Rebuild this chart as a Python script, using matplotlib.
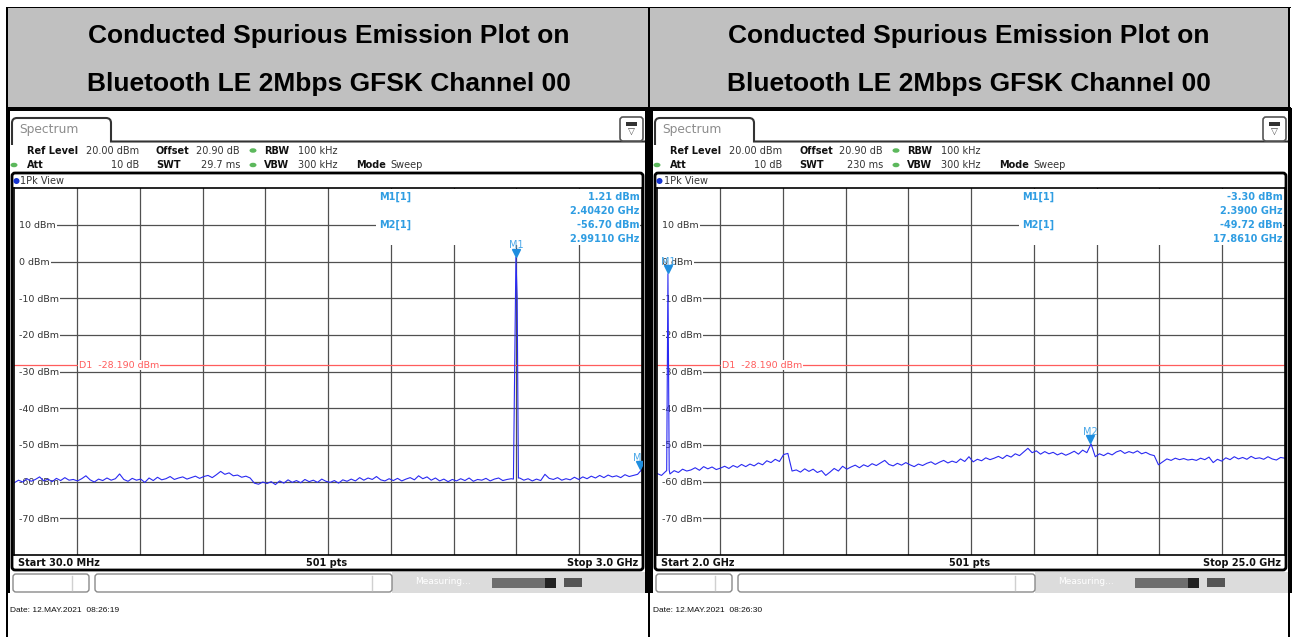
import numpy as np
import matplotlib
matplotlib.use("Agg")
import matplotlib.pyplot as plt
from matplotlib.patches import Rectangle, FancyBboxPatch, PathPatch, Ellipse
from matplotlib.path import Path
from matplotlib.transforms import offset_copy

W, H = 1292, 637

title_lines = ["Conducted Spurious Emission Plot on",
               "Bluetooth LE 2Mbps GFSK Channel 00"]
level_ticks = [10, 0, -10, -20, -30, -40, -50, -60, -70]
level_labels = ["10 dBm", "0 dBm", "-10 dBm", "-20 dBm", "-30 dBm",
                "-40 dBm", "-50 dBm", "-60 dBm", "-70 dBm"]
ref_level, bottom_level = 20, -80
d1_level = -28.19
n_points = 501

# left screen: 30 MHz .. 3 GHz
left_start, left_stop = 0.03, 3.0
left_start_txt, left_stop_txt = "Start 30.0 MHz", "Stop 3.0 GHz"
left_swt = "29.7 ms"
left_date = "12.MAY.2021  08:26:19"
left_noise = [
    -60.3, -59.6, -60.1, -59.2, -59.9, -59.4, -58.7, -59.8, -59.3, -60.0, -59.1, -59.7, -58.9, -59.6, -59.4,
    -59.8, -59.2, -58.4, -59.5, -60.1, -59.3, -59.7, -59.0, -59.6, -59.2, -57.9, -59.4, -59.9, -59.1, -59.6,
    -59.3, -60.2, -59.0, -59.7, -58.8, -59.5, -59.2, -58.6, -59.4, -59.0, -58.7, -59.3, -58.9, -58.5, -59.1,
    -58.6, -58.3, -58.9, -58.1, -57.2, -58.0, -57.6, -58.4, -58.2, -58.8, -58.5, -59.0, -60.4, -60.7, -60.1,
    -60.5, -60.0, -60.8, -59.8, -60.4, -59.5, -60.2, -59.7, -60.3, -59.4, -60.0, -59.6, -60.2, -59.3, -59.9,
    -60.2, -59.7, -60.4, -59.5, -59.9, -59.3, -59.8, -58.9, -59.6, -59.0, -59.4, -58.6, -59.5, -59.8, -59.2,
    -59.7, -59.1, -59.8, -59.3, -58.9, -59.5, -58.4, -59.2, -58.7, -59.6, -59.0, -59.8, -59.3, -60.0, -59.4,
    -59.8, -59.2, -59.7, -59.0, -59.9, -59.4, -59.6, -59.1, -59.8, -59.3, -59.0, -59.7, -59.4, -59.2,
    -59.5, -59.0, -59.6, -59.2, -59.8, -59.3, -59.7, -58.0, -59.1, -59.4, -58.9, -59.6, -59.2, -59.5, -58.8,
    -59.4, -58.7, -59.2, -58.5, -59.0, -58.3, -58.9, -58.2, -58.7, -58.4, -58.9, -58.1, -58.6, -58.3, -58.0, -56.7]
left_carrier_freq = [2.3924, 2.3983, 2.4042, 2.4101, 2.4160]
left_carrier_level = [-59.3, -28.2, 1.21, -9.8, -59.0]
left_markers = [("M1", 2.4042, 1.21), ("M2", 2.9911, -56.70)]
left_freq_digits = 5

# right screen: 2 GHz .. 25 GHz
right_start, right_stop = 2.0, 25.0
right_start_txt, right_stop_txt = "Start 2.0 GHz", "Stop 25.0 GHz"
right_swt = "230 ms"
right_date = "12.MAY.2021  08:26:30"
right_noise = [
    -57.8, -58.3, -57.2, -57.9, -57.0, -57.5, -56.6, -57.1,
    -56.8, -56.2, -56.9, -55.9, -56.5, -56.0, -56.7, -56.3,
    -55.8, -56.4, -55.6, -56.1, -55.3, -55.9, -55.2, -55.7,
    -54.9, -55.4, -54.3, -54.8, -53.9, -54.5, -52.6, -52.3,
    -57.1, -56.8, -57.4, -56.5, -57.2, -56.6, -57.5, -57.0,
    -58.3, -57.4, -56.4, -57.1, -55.8, -56.6, -56.0, -55.5,
    -56.2, -55.4, -55.9, -55.1, -55.6, -54.9, -54.2, -55.3,
    -55.7, -55.0, -55.5, -54.8, -55.4, -55.9, -55.2, -55.6,
    -55.0, -54.6, -55.3, -54.7, -54.2, -54.9, -54.4, -54.8,
    -53.8, -54.5, -53.2, -54.6, -53.9, -54.3, -53.5, -54.0,
    -53.6, -53.1, -53.7, -52.8, -53.3, -52.4, -52.9, -51.9,
    -50.9, -52.1, -51.6, -52.5, -51.8, -52.4, -52.0, -52.7,
    -52.2, -52.8, -52.3, -51.7, -52.5, -51.4, -52.1, -49.72,
    -53.2, -52.4, -52.9, -52.2, -52.7, -51.9, -51.5, -52.3,
    -51.8, -52.2, -51.6, -52.4, -52.0, -52.6, -52.9, -55.4,
    -54.6, -53.8, -54.2, -53.6, -54.0, -53.7, -54.1, -53.9,
    -54.2, -53.6, -54.0, -53.3, -54.8, -53.9, -54.4, -53.5,
    -54.0, -53.2, -53.8, -53.4, -53.9, -53.1, -53.7, -53.5,
    -53.9, -53.2, -53.8, -54.1, -53.4, -53.6]
right_carrier_freq = [2.344, 2.390, 2.436]
right_carrier_level = [-57.0, -3.30, -56.8]
right_markers = [("M1", 2.3900, -3.30), ("M2", 17.8610, -49.72)]
right_freq_digits = 4

trace_color = "#2a2af2"
marker_color = "#1e8ee0"
info_color = "#2f9de2"
d1_color = "#ff5c5c"
green = "#5cb85c"

fig = plt.figure(figsize=(W / 100, H / 100), dpi=100)
bg = fig.add_axes([0, 0, 1, 1])
bg.set_xlim(0, W)
bg.set_ylim(H, 0)
bg.axis("off")


def px_axes(x0, y0, x1, y1):
    return fig.add_axes([x0 / W, 1 - y1 / H, (x1 - x0) / W, (y1 - y0) / H])


def build_trace(start, stop, noise, cf, cl):
    f = np.linspace(start, stop, len(noise))
    keep = (f < min(cf)) | (f > max(cf))
    freq = np.concatenate([f[keep], cf])
    lvl = np.concatenate([np.array(noise)[keep], cl])
    order = np.argsort(freq)
    return freq[order], lvl[order]


# table header
bg.add_patch(Rectangle((7, 7), 1282, 100, fc="#c0c0c0", ec="none"))
for cx in (328.5, 968.5):
    for y, line in zip((36, 84), title_lines):
        bg.text(cx, y, line, ha="center", va="center", fontsize=19,
                fontweight="bold", family="Liberation Sans", color="black")
# table lines
bg.add_patch(Rectangle((6, 6.5), 1285, 1.5, fc="black", ec="none"))
bg.add_patch(Rectangle((6, 106.5), 1285, 1.5, fc="black", ec="none"))
bg.add_patch(Rectangle((6, 6.5), 1.5, 631, fc="black", ec="none"))
bg.add_patch(Rectangle((648, 6.5), 1.5, 631, fc="black", ec="none"))
bg.add_patch(Rectangle((1288, 6.5), 1.5, 631, fc="black", ec="none"))


def draw_screen(ox, start, stop, start_txt, stop_txt, swt, date, noise,
                cf, cl, markers, digits):
    # screen border
    bg.add_patch(Rectangle((ox + 7, 108), 641, 3, fc="black", ec="none"))
    bg.add_patch(Rectangle((ox + 7, 108), 3, 485, fc="black", ec="none"))
    bg.add_patch(Rectangle((ox + 645, 108), 3.5, 485, fc="black", ec="none"))

    # spectrum tab
    verts = [(ox + 12, 145), (ox + 12, 123), (ox + 12, 118), (ox + 17, 118),
             (ox + 106, 118), (ox + 111, 118), (ox + 111, 123),
             (ox + 111, 141.5), (ox + 645, 141.5)]
    codes = [Path.MOVETO, Path.LINETO, Path.CURVE3, Path.CURVE3, Path.LINETO,
             Path.CURVE3, Path.CURVE3, Path.LINETO, Path.LINETO]
    bg.add_patch(PathPatch(Path(verts, codes), fc="none", ec="#333333", lw=1.5))
    bg.text(ox + 19, 130, "Spectrum", fontsize=8.8, color="#8c8c8c", va="center")
    # small menu icon
    bg.add_patch(FancyBboxPatch((ox + 620, 117), 23, 24, boxstyle="round,pad=0,rounding_size=3",
                                fc="white", ec="#555555", lw=1.2))
    bg.add_patch(Rectangle((ox + 626, 121.5), 11, 4, fc="#333333", ec="none"))
    bg.text(ox + 631.5, 132, "\u25bd", fontsize=6.5, ha="center", va="center", color="#444444")

    # settings rows
    def info(x, y, s, bold=False, ha="left"):
        bg.text(ox + x, y, s, ha=ha, va="center", fontsize=7,
                fontweight="bold" if bold else "normal",
                color="#111111" if bold else "#333333")
    info(27, 150.5, "Ref Level", True)
    info(139, 150.5, "20.00 dBm", ha="right")
    info(156, 150.5, "Offset", True)
    info(240, 150.5, "20.90 dB", ha="right")
    info(264, 150.5, "RBW", True)
    info(298, 150.5, "100 kHz")
    info(27, 165, "Att", True)
    info(139, 165, "10 dB", ha="right")
    info(156, 165, "SWT", True)
    info(240, 165, swt, ha="right")
    info(264, 165, "VBW", True)
    info(298, 165, "300 kHz")
    info(356, 165, "Mode", True)
    info(390, 165, "Sweep")
    for (x, y) in ((253, 150.5), (253, 165), (14, 165)):
        bg.add_patch(Ellipse((ox + x, y), 7, 4.5, fc=green, ec="none"))

    # diagram frame
    bg.add_patch(FancyBboxPatch((ox + 12, 173), 631, 397, boxstyle="round,pad=0,rounding_size=3",
                                fc="white", ec="black", lw=2))
    bg.add_patch(Ellipse((ox + 16.5, 181), 6, 6, fc="#1432d0", ec="none"))
    bg.text(ox + 20.5, 181, "1Pk View", fontsize=7, va="center", color="#333333")
    bg.text(ox + 18, 562.5, start_txt, fontsize=7, fontweight="bold", va="center", color="#111111")
    bg.text(ox + 327, 562.5, "%d pts" % n_points, fontsize=7, fontweight="bold",
            ha="center", va="center", color="#111111")
    bg.text(ox + 638, 562.5, stop_txt, fontsize=7, fontweight="bold", ha="right",
            va="center", color="#111111")

    # status bar
    bg.add_patch(Rectangle((ox + 392, 572), 253, 21, fc="#dcdcdc", ec="none"))
    bg.add_patch(FancyBboxPatch((ox + 13, 574), 76, 18, boxstyle="round,pad=0,rounding_size=3",
                                fc="white", ec="#8a8a8a", lw=1))
    bg.plot([ox + 72, ox + 72], [576, 590], color="#d0d0d0", lw=1)
    bg.add_patch(FancyBboxPatch((ox + 95, 574), 297, 18, boxstyle="round,pad=0,rounding_size=3",
                                fc="white", ec="#8a8a8a", lw=1))
    bg.plot([ox + 372, ox + 372], [576, 590], color="#d0d0d0", lw=1)
    bg.text(ox + 415, 582, "Measuring...", fontsize=6.5, color="white", va="center")
    bg.add_patch(Rectangle((ox + 492, 577.5), 64, 10, fc="#6e6e6e", ec="none"))
    bg.add_patch(Rectangle((ox + 545, 577.5), 11, 10, fc="#222222", ec="none"))
    bg.add_patch(Rectangle((ox + 564, 578), 18, 9, fc="#555555", ec="none"))

    bg.text(ox + 10, 610, "Date: " + date, fontsize=6, family="Liberation Sans",
            va="center", color="#111111")

    # graticule
    ax = px_axes(ox + 14.3, 188.3, ox + 641.8, 555)
    ax.set_xlim(start, stop)
    ax.set_ylim(bottom_level, ref_level)
    ax.set_axisbelow(True)
    ax.set_xticks(np.linspace(start, stop, 11))
    ax.set_xticklabels([])
    ax.set_yticks(level_ticks, labels=level_labels)
    ax.tick_params(axis="both", length=0)
    ax.tick_params(axis="y", pad=-3.2, labelsize=6.8, labelcolor="#333333")
    for lab in ax.get_yticklabels():
        lab.set_horizontalalignment("left")
        lab.set_bbox(dict(fc="white", ec="none", pad=0.8))
    ax.grid(True, color="#505050", lw=0.9)
    for s in ax.spines.values():
        s.set_color("black")
        s.set_linewidth(1.2)
    # the level lines start right at their labels
    ax.add_patch(Rectangle((0, 0), 0.0075, 1, transform=ax.transAxes,
                           fc="white", ec="none", zorder=0.7))

    # marker table, covers the grid behind it
    ax.add_patch(Rectangle((0.577, 0.845), 0.42, 0.152, transform=ax.transAxes,
                           fc="white", ec="none", zorder=1))
    rows = []
    for name, mf, ml in markers:
        rows.append((name + "[1]", "%.2f dBm" % ml))
        rows.append(("", ("%." + str(digits) + "f GHz") % mf))
    for k, (lbl, val) in enumerate(rows):
        yy = 0.976 - k * 0.038
        if lbl:
            ax.text(0.581, yy, lbl, transform=ax.transAxes, fontsize=7, fontweight="bold",
                    color=info_color, va="center", zorder=3)
        ax.text(0.996, yy, val, transform=ax.transAxes, fontsize=7, fontweight="bold",
                color=info_color, va="center", ha="right", zorder=3)

    # display line D1
    ax.axhline(d1_level, color=d1_color, lw=0.9, zorder=1.5)
    ax.text(0.103, d1_level, "D1  %.3f dBm" % d1_level, transform=ax.get_yaxis_transform(),
            fontsize=6.8, color=d1_color, va="center", zorder=1.6,
            bbox=dict(fc="white", ec="none", pad=0.6))

    # trace
    f, lvl = build_trace(start, stop, noise, cf, cl)
    ax.plot(f, lvl, color=trace_color, lw=0.8, zorder=2)

    # markers
    tri = offset_copy(ax.transData, fig=fig, x=0, y=4.5, units="dots")
    lab = offset_copy(ax.transData, fig=fig, x=0, y=12, units="dots")
    for name, mf, ml in markers:
        ax.plot([mf], [ml], marker="v", ms=6, color=marker_color, transform=tri,
                zorder=3, clip_on=True)
        ax.text(mf, ml, name, transform=lab, fontsize=7, color="#4aa8e8",
                ha="center", va="center", zorder=3, clip_on=True)


draw_screen(0, left_start, left_stop, left_start_txt, left_stop_txt, left_swt, left_date,
            left_noise, left_carrier_freq, left_carrier_level, left_markers, left_freq_digits)
draw_screen(643, right_start, right_stop, right_start_txt, right_stop_txt, right_swt, right_date,
            right_noise, right_carrier_freq, right_carrier_level, right_markers, right_freq_digits)

fig.savefig("out.png", dpi=100)
